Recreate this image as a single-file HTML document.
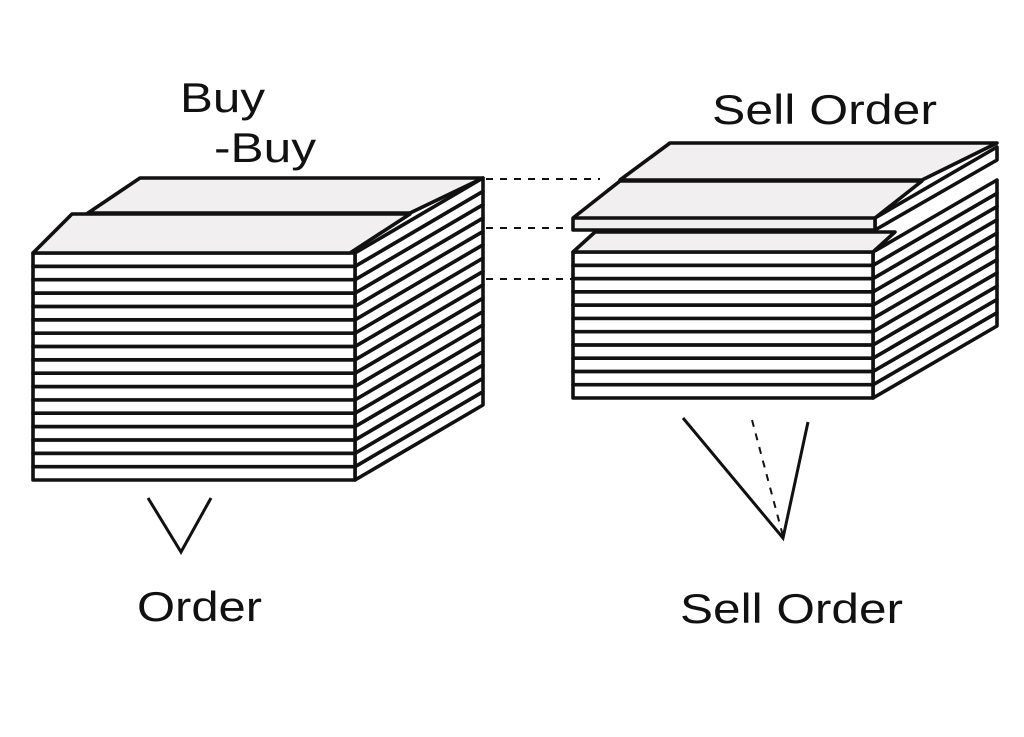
<!DOCTYPE html>
<html><head><meta charset="utf-8"><style>
html,body{margin:0;padding:0;background:#fff;width:1024px;height:737px;overflow:hidden}
svg{display:block}
text{font-family:"Liberation Sans",sans-serif;font-size:42px;fill:#111}
</style></head><body>
<svg id="s" width="1024" height="737" viewBox="0 0 1024 737" xmlns="http://www.w3.org/2000/svg">
<rect width="1024" height="737" fill="#fff"/>
<g id="g" fill="none" stroke="#111" stroke-width="3.6" stroke-linejoin="round"></g>
<g stroke="#111" stroke-width="2" stroke-dasharray="7,7" fill="none">
<line x1="486" y1="179" x2="600" y2="179"/>
<line x1="486" y1="228" x2="570" y2="228"/>
<line x1="486" y1="279" x2="572" y2="279"/>
<line x1="752" y1="420" x2="783" y2="536"/>
</g>
<g stroke="#111" stroke-width="3" fill="none">
<polyline points="148,498 181,552 211,498"/>
<polyline points="683,418 783,538 808,422"/>
</g>
<text x="180" y="112" textLength="85" lengthAdjust="spacingAndGlyphs">Buy</text>
<text x="214" y="162" textLength="102" lengthAdjust="spacingAndGlyphs">-Buy</text>
<text x="712" y="124" textLength="225" lengthAdjust="spacingAndGlyphs">Sell Order</text>
<text x="137" y="621" textLength="125" lengthAdjust="spacingAndGlyphs">Order</text>
<text x="680" y="623" textLength="223" lengthAdjust="spacingAndGlyphs">Sell Order</text>
</svg>
<script>
(function(){
var g=document.getElementById('g'),h='';
function P(pts,fill){h+='<polygon points="'+pts.map(function(p){return p.join(',');}).join(' ')+'" fill="'+(fill||'#fff')+'"/>';}
var fl=33,fr=355,dx=128,dy=-75,t0=253,bot=480,n=17,lh=(bot-t0)/n,i,y;
P([[88,213],[140,178],[483,178],[410,213]],'#f1eff0');
for(i=n-1;i>=0;i--){y=t0+i*lh;
 P([[fr,y],[fr+dx,y+dy],[fr+dx,y+dy+lh],[fr,y+lh]]);
 P([[fl,y],[fr,y],[fr,y+lh],[fl,y+lh]]);}
P([[33,253],[72,214],[410,214],[350,253]],'#f1eff0');
var rl=573,rr=873,rdx=124,rdy=-72,rt=252,rb=398,m=11,rh=(rb-rt)/m;
P([[620,180],[670,143],[997,143],[922,180]],'#f1eff0');
for(i=m-1;i>=0;i--){y=rt+i*rh;
 P([[rr,y],[rr+rdx,y+rdy],[rr+rdx,y+rdy+rh],[rr,y+rh]]);
 P([[rl,y],[rr,y],[rr,y+rh],[rl,y+rh]]);}
P([[573,252],[595,232],[895,232],[873,252]],'#f1eff0');
P([[875,218],[997,147],[997,160],[875,230]]);
P([[573,218],[620,181],[922,181],[875,218],[875,230],[573,230]],'#f1eff0');
h+='<line x1="573" y1="218" x2="875" y2="218"/>';
g.innerHTML=h;
})();
</script>
</body></html>
